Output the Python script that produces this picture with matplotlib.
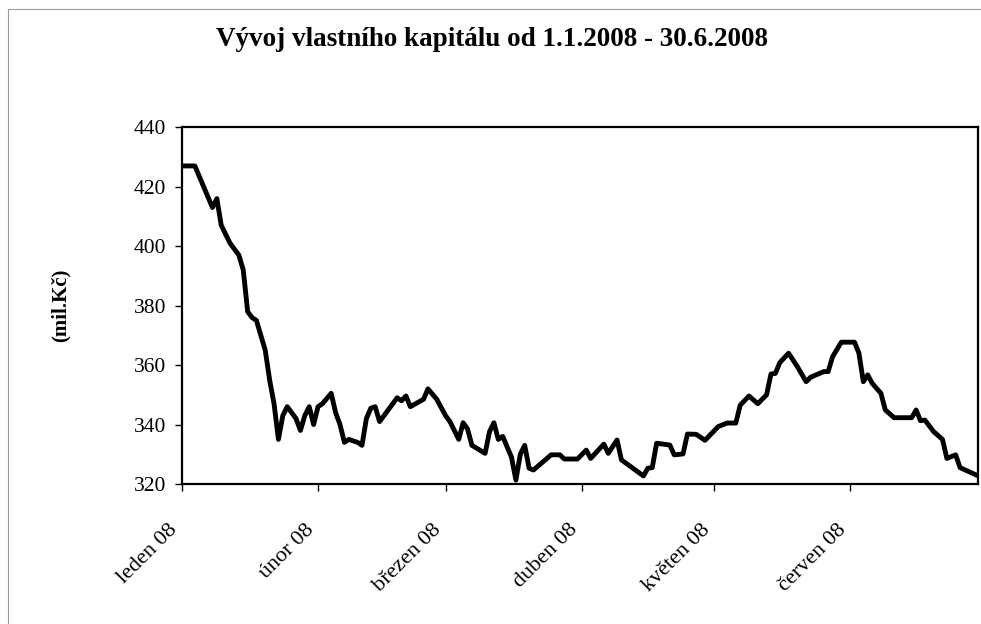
import matplotlib
matplotlib.use("Agg")
import matplotlib.pyplot as plt
import pandas as pd
from matplotlib.patches import Rectangle

# --- data ---
title = "Vývoj vlastního kapitálu od 1.1.2008 - 30.6.2008"
y_label = "(mil.Kč)"
start_date = "2008-01-01"
end_date = "2008-06-30"
month_starts = ["2008-01-01", "2008-02-01", "2008-03-01", "2008-04-01", "2008-05-01", "2008-06-01"]
month_labels = ["leden 08", "únor 08", "březen 08", "duben 08", "květen 08", "červen 08"]
y_ticks = [320, 340, 360, 380, 400, 420, 440]

day_offsets = [0, 3, 7, 8, 9, 10, 11, 12, 13, 14, 15, 16, 17, 19, 20, 21, 22, 23, 24, 26,
               27, 28, 29, 30, 31, 32, 34, 35, 36, 37, 38, 40, 41, 42, 43, 44, 45, 47, 49, 50,
               51, 52, 55, 56, 58, 60, 61, 63, 64, 65, 66, 69, 70, 71, 72, 73, 75, 76, 77, 78,
               79, 80, 84, 86, 87, 90, 92, 93, 96, 97, 99, 100, 105, 106, 107, 108, 111, 112, 114, 115,
               117, 119, 122, 124, 126, 127, 129, 131, 133, 134, 135, 136, 138, 140, 142, 143, 146, 147, 148, 150,
               153, 154, 155, 156, 157, 159, 160, 162, 166, 167, 168, 169, 171, 173, 174, 176, 177, 181]
equity = [427, 427, 413, 416, 407, 404, 401, 399, 397, 392, 378, 376, 375, 365, 355, 347, 335, 343, 346, 342,
          338, 343, 346, 340, 346, 347, 350.5, 344, 340, 334, 335, 334, 333, 342, 345.5, 346, 341, 345, 349, 348,
          349.6, 346, 348.5, 352, 348.5, 343, 341, 335, 340.6, 338.5, 333, 330.3, 337.6, 340.6, 335, 336, 329, 321.3, 330, 333,
          325.3, 324.7, 329.8, 329.8, 328.4, 328.4, 331.4, 328.6, 333.4, 330.3, 334.8, 328.1, 322.7, 325.3, 325.5, 333.7, 333.1, 329.8, 330.1, 336.8,
          336.7, 334.7, 339.3, 340.5, 340.5, 346.5, 349.6, 347, 350, 357, 357.2, 360.8, 364, 359.5, 354.4, 355.9, 357.8, 357.8, 362.8, 367.7,
          367.7, 364, 354.4, 356.7, 353.9, 350.5, 344.9, 342.3, 342.3, 344.9, 341.3, 341.5, 337.6, 335, 328.6, 329.8, 325.5, 322.8]

dates = pd.Timestamp(start_date) + pd.to_timedelta(day_offsets, unit="D")

plt.rcParams['font.family'] = ['Liberation Serif', 'DejaVu Serif']

fig = plt.figure(figsize=(9.81, 6.24), dpi=100)
ax = fig.add_axes([0.1852, 0.2244, 0.8114, 0.5716])

# figure border (grey frame of the original chart)
fig.patches.append(Rectangle((8 / 981, -0.05), 1.2, 1 - 9 / 624 + 0.05, transform=fig.transFigure,
                             fill=False, edgecolor="#9a9a9a", linewidth=0.8))

ax.plot(dates, equity, color="black", linewidth=3.5, solid_joinstyle="round")

ax.set_xlim(pd.Timestamp(start_date), pd.Timestamp(end_date))
ax.set_ylim(y_ticks[0], y_ticks[-1])
ax.set_yticks(y_ticks)
ax.set_xticks(pd.to_datetime(month_starts))
ax.set_xticklabels(month_labels, rotation=45, ha="right", va="top")

for s in ax.spines.values():
    s.set_linewidth(1.6)
    s.set_color("black")

ax.tick_params(axis="y", direction="out", length=5, width=1, labelsize=15.5, pad=6)
ax.tick_params(axis="x", direction="out", length=5, width=1, labelsize=16, pad=21)

fig.text(0.502, 0.937, title, ha="center", va="center", fontsize=19.5, fontweight="bold")
fig.text(0.062, 0.51, y_label, ha="center", va="center", rotation=90, fontsize=15, fontweight="bold")

fig.savefig("out.png", dpi=100, facecolor="white")
